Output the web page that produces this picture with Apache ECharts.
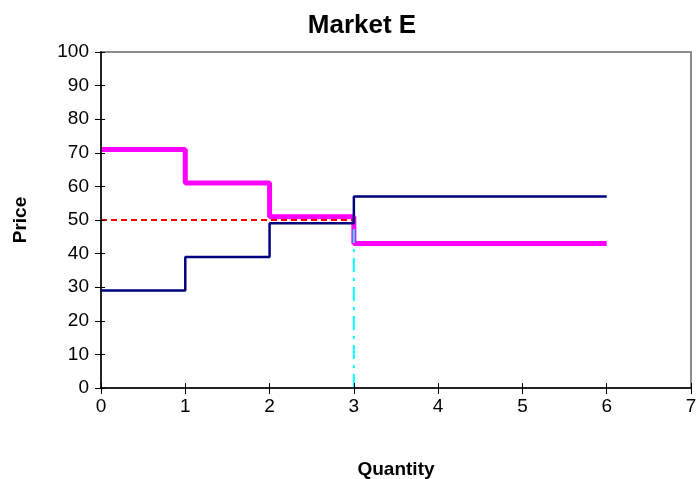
<!DOCTYPE html>
<html>
<head>
<meta charset="utf-8">
<script src="https://cdn.jsdelivr.net/npm/echarts@6/dist/echarts.min.js"></script>
<style>
  html, body { margin: 0; padding: 0; background: #fff; }
  #chart { width: 697px; height: 479px; }
</style>
</head>
<body>
<div id="chart"></div>
<script>
// Step breakpoints along the quantity axis
const quantities = [0, 1, 2, 3, 6];
// Demand (bids) and supply (asks) prices at each breakpoint
const demandPrices = [71, 61, 51, 43, 43];
const supplyPrices = [29, 39, 49, 57, 57];
// Clearing price and quantity
const clearingPrice = 50;
const clearingQuantity = 3;

const demandData = quantities.map((q, i) => [q, demandPrices[i]]);
const supplyData = quantities.map((q, i) => [q, supplyPrices[i]]);
const priceLine = [[0, clearingPrice], [clearingQuantity, clearingPrice]];
const quantityLine = [[clearingQuantity, 0], [clearingQuantity, clearingPrice]];

const font = '"Liberation Sans", Arial, sans-serif';
const chart = echarts.init(document.getElementById('chart'));

// A second axis pair, line hidden, draws the inward half of each crossing tick
const tickStyle = { color: '#000', width: 1 };
const hiddenLine = { show: true, lineStyle: { color: '#000', width: 1, opacity: 0 } };
chart.setOption({
  animation: false,
  backgroundColor: '#fff',
  title: {
    text: 'Market E',
    left: 357, top: 8, textAlign: 'center',
    textStyle: { fontFamily: font, fontSize: 26, fontWeight: 'bold', color: '#000' }
  },
  grid: {
    left: 101, top: 52, right: 6, bottom: 91,
    outerBoundsMode: 'none', containLabel: false,
    show: true, borderColor: '#8c8c8c', borderWidth: 2, backgroundColor: 'transparent'
  },
  xAxis: [{
    type: 'value', min: 0, max: 7, interval: 1, z: 5,
    name: 'Quantity', nameLocation: 'middle', nameGap: 72,
    nameTextStyle: { fontFamily: font, fontSize: 19, fontWeight: 'bold', color: '#000' },
    axisLine: { show: true, lineStyle: { color: '#000', width: 1.5 } },
    axisTick: { show: true, length: 6, lineStyle: tickStyle },
    axisLabel: { fontFamily: font, fontSize: 19, color: '#000', margin: 9 },
    splitLine: { show: false }
  }, {
    type: 'value', min: 0, max: 7, interval: 1, position: 'bottom', offset: 0, z: 5,
    axisLine: hiddenLine,
    axisTick: { show: true, inside: true, length: 5, lineStyle: tickStyle },
    axisLabel: { show: false }, splitLine: { show: false }
  }],
  yAxis: [{
    type: 'value', min: 0, max: 100, interval: 10, z: 5,
    name: 'Price', nameLocation: 'middle', nameGap: 71, nameRotate: 90,
    nameTextStyle: { fontFamily: font, fontSize: 19, fontWeight: 'bold', color: '#000' },
    axisLine: { show: true, lineStyle: { color: '#000', width: 1.5 } },
    axisTick: { show: true, length: 6, lineStyle: tickStyle },
    axisLabel: { fontFamily: font, fontSize: 19, color: '#000', margin: 12 },
    splitLine: { show: false }
  }, {
    type: 'value', min: 0, max: 100, interval: 10, position: 'left', offset: 0, z: 5,
    axisLine: hiddenLine,
    axisTick: { show: true, inside: true, length: 4, lineStyle: tickStyle },
    axisLabel: { show: false }, splitLine: { show: false }
  }],
  series: [
    {
      type: 'line', data: priceLine, symbol: 'none', z: 3,
      lineStyle: { color: '#ff0000', width: 2, type: [6, 4] }
    },
    {
      type: 'line', data: quantityLine, symbol: 'none', z: 4,
      lineStyle: { color: '#00ffff', width: 2, type: [14, 6, 3, 6] }
    },
    {
      type: 'line', data: supplyData, step: 'end', symbol: 'none', z: 5,
      lineStyle: { color: '#000080', width: 2.5 }
    },
    {
      type: 'line', data: demandData, step: 'end', symbol: 'none', z: 2,
      lineStyle: { color: '#ff00ff', width: 5 }
    }
  ]
});
</script>
</body>
</html>
